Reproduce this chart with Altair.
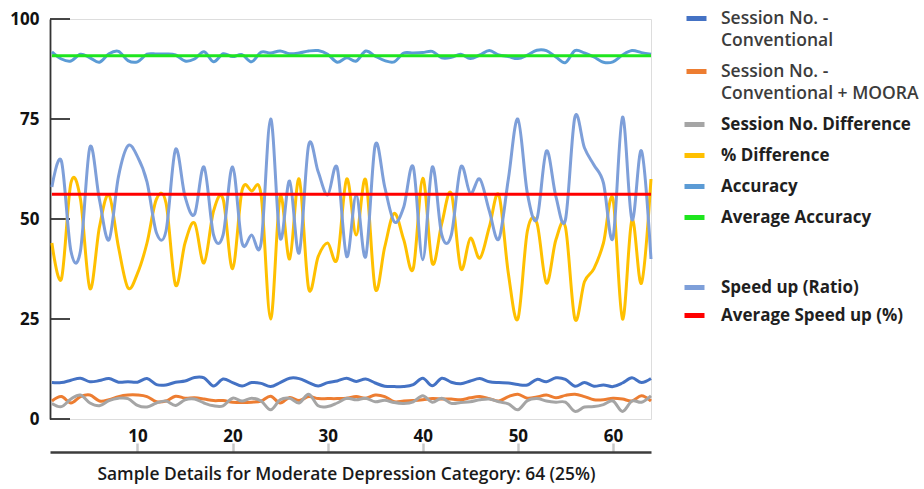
import altair as alt
import pandas as pd

x_idx = list(range(1, 65))

session_conv = [9.1, 9.1, 9.7, 10.2, 9.3, 9.6, 10.1, 9.2, 9.3, 9.2, 10.1, 8.6, 8.5, 9.2, 9.5, 10.4,
                10.3, 8.25, 10.0, 9.1, 8.25, 9.1, 8.9, 8.1, 9.1, 10.2, 10.1, 9.1, 8.25, 9.1, 9.5, 10.2,
                9.4, 10.0, 9.0, 8.2, 8.1, 8.1, 8.6, 10.2, 8.3, 10.2, 9.2, 8.8, 9.5, 10.1, 9.3, 9.1,
                9.0, 8.6, 8.5, 9.9, 9.3, 10.3, 9.9, 8.2, 9.1, 8.2, 8.5, 8.1, 9.0, 10.3, 9.1, 10.1]

session_moora = [4.5, 5.6, 4.0, 5.6, 6.0, 4.5, 4.8, 5.6, 6.0, 6.0, 5.6, 4.3, 4.5, 5.7, 5.2, 5.3,
                 5.0, 4.6, 4.6, 4.2, 4.1, 4.2, 4.5, 5.7, 4.0, 5.4, 4.6, 5.6, 5.1, 5.1, 5.1, 5.2,
                 5.6, 5.2, 6.0, 5.6, 4.3, 4.5, 4.6, 4.8, 5.1, 5.0, 5.0, 4.8, 5.3, 5.6, 5.1, 4.5,
                 5.6, 6.2, 5.2, 5.5, 6.0, 5.3, 5.9, 6.2, 5.6, 4.8, 4.8, 5.2, 5.0, 4.5, 5.8, 4.5]

session_diff = [3.9, 3.1, 5.0, 6.0, 4.0, 3.3, 4.6, 5.2, 5.1, 3.4, 3.0, 4.0, 4.5, 3.4, 4.8, 5.0,
                4.0, 3.3, 3.3, 5.2, 4.5, 5.2, 4.5, 2.3, 4.8, 5.2, 4.0, 6.2, 3.3, 3.1, 4.0, 5.2,
                4.8, 5.2, 4.3, 4.7, 4.1, 3.9, 4.3, 5.8, 4.2, 5.2, 3.9, 4.1, 4.3, 4.8, 5.0, 4.3,
                3.8, 2.3, 4.6, 5.1, 4.5, 4.2, 4.2, 1.9, 3.0, 3.1, 3.6, 4.5, 1.9, 4.5, 4.2, 5.8]

pct_diff = [44, 35, 59, 55, 32.6, 48, 56, 43, 32.8, 36.4, 44, 55, 54, 33.5, 44, 49,
            39, 52, 55, 37.6, 57.2, 57, 56, 25, 55.6, 40, 60, 32.6, 40.6, 44, 40, 60,
            46, 59.8, 32.6, 43, 51.4, 44.8, 37.6, 60.2, 38.9, 48.9, 56.4, 37.6, 45.2, 40.2, 48, 56,
            36.4, 25, 47, 49, 34, 44.8, 48, 25, 34.3, 37.6, 44, 55, 25, 49.8, 34, 60]

accuracy = [91.8, 90.0, 89.5, 91.2, 90.3, 89.2, 91.3, 91.9, 89.6, 89.3, 91.2, 91.25, 91.25, 91.0, 89.5, 90.0,
            91.8, 89.3, 91.3, 90.6, 91.1, 89.3, 91.7, 91.5, 92.0, 91.3, 91.5, 92.0, 92.1, 91.2, 89.2, 90.3,
            89.5, 92.0, 90.7, 89.6, 89.3, 91.5, 91.5, 91.6, 91.9, 90.3, 90.4, 91.2, 90.1, 91.0, 92.1, 91.0,
            90.6, 90.1, 91.0, 92.2, 92.1, 90.5, 89.1, 92.1, 91.5, 90.5, 89.2, 89.3, 91.0, 92.1, 91.6, 91.2]

speed_up = [58, 64.5, 42, 42, 68, 54.8, 44.8, 60.6, 68.3, 65.6, 59.3, 46.5, 47, 67.4, 55.6, 51.2,
            63, 46, 46, 63, 44, 46, 44, 75, 45.2, 59.5, 41.5, 68.5, 61.8, 56, 62.8, 40.6,
            56, 40.6, 68.5, 58, 49.3, 53, 63, 39.8, 63, 46, 46, 63, 56.4, 60, 52, 45,
            60, 75, 56.4, 50, 67, 55.6, 49.8, 75.5, 67.8, 63.5, 59, 45.2, 75.5, 49.8, 67, 40]

AVG_ACCURACY = 90.8
AVG_SPEEDUP = 56.2

y_ticks = [0, 25, 50, 75, 100]
x_ticks = [10, 20, 30, 40, 50, 60]

names_a = ["Session No. - Conventional", "Session No. - Conventional + MOORA"]
colors_a = ["#4472C4", "#ED7D31"]
names_b = ["Session No. Difference", "% Difference", "Accuracy", "Average Accuracy"]
colors_b = ["#A5A5A5", "#FFC000", "#5B9BD5", "#1EE61E"]
names_c = ["Speed up (Ratio)", "Average Speed up (%)"]
colors_c = ["#7E9FD9", "#FF0000"]

X_TITLE = "Sample Details for Moderate Depression Category: 64 (25%)"
FONT = "Open Sans"


def long_df(pairs):
    rows = []
    for name, vals in pairs:
        for xi, v in zip(x_idx, vals):
            rows.append({"x": xi, "v": v, "s": name})
    return pd.DataFrame(rows)


df_a = long_df([(names_a[0], session_conv), (names_a[1], session_moora)])
df_b = long_df([(names_b[0], session_diff), (names_b[1], pct_diff), (names_b[2], accuracy),
                (names_b[3], [AVG_ACCURACY] * len(x_idx))])
df_c = long_df([(names_c[0], speed_up), (names_c[1], [AVG_SPEEDUP] * len(x_idx))])

x_scale = alt.Scale(domain=[0.8, 64], nice=False, zero=False)
y_scale = alt.Scale(domain=[0, 100], nice=False, zero=True)

x_axis = alt.Axis(
    orient="top", offset=-433, values=x_ticks, grid=False,
    domainColor="#3c3c3c", domainWidth=2.5,
    tickColor="#c8c8c8", tickWidth=2.5, tickSize=9,
    labelFont=FONT, labelFontSize=17, labelFontWeight="bold", labelColor="#111111",
    labelBaseline="alphabetic", labelPadding=2, labelFlush=False,
    title=X_TITLE, titleFont=FONT, titleFontSize=17.4, titleFontWeight=600,
    titleColor="#1a1a1a", titleX=296, titleY=27, titleAlign="center",
    titleBaseline="alphabetic", titleAnchor="middle",
)
# y axis: domain at the left edge, labels to its left
y_axis = alt.Axis(
    orient="left", values=y_ticks, grid=False, ticks=False, tickSize=0,
    domainColor="#333333", domainWidth=1.8,
    labelFont=FONT, labelFontSize=17, labelFontWeight="bold", labelColor="#111111",
    labelAlign="right", labelPadding=11, labelFlush=False, title=None,
)


def legend(x, y, row_pad, size, weight, color, label_expr=None, offset=14):
    kw = dict(
        orient="none", legendX=x, legendY=y, title=None, padding=0,
        symbolType="stroke", symbolStrokeWidth=5, symbolSize=400,
        labelFont=FONT, labelFontSize=size, labelFontWeight=weight, labelColor=color,
        labelOffset=offset, labelLimit=320, rowPadding=row_pad, direction="vertical",
    )
    if label_expr:
        kw["labelExpr"] = label_expr
    return alt.Legend(**kw)


expr_a = ("datum.label == 'Session No. - Conventional' ? ['Session No. -', 'Conventional'] : "
          "['Session No. -', 'Conventional + MOORA']")

# inward-pointing y tick marks (axis decoration), positioned by the y scale
y_tick_marks = alt.Chart(pd.DataFrame({"v": y_ticks})).mark_rule(
    color="#333333", strokeWidth=1.8
).encode(
    y=alt.Y("v:Q", scale=y_scale, axis=y_axis),
    x=alt.value(0), x2=alt.value(20),
)

layer_a = alt.Chart(df_a).mark_line(interpolate="cardinal", strokeWidth=3).encode(
    x=alt.X("x:Q", scale=x_scale, axis=x_axis),
    y=alt.Y("v:Q", scale=y_scale, axis=y_axis),
    color=alt.Color("s:N", scale=alt.Scale(domain=names_a, range=colors_a),
                    sort=names_a,
                    legend=legend(634, -13, 10, 17.5, 600, "#3c3c3c", expr_a, 12)),
)

layer_b = alt.Chart(df_b).mark_line(interpolate="cardinal", strokeWidth=3).encode(
    x=alt.X("x:Q", scale=x_scale, axis=x_axis),
    y=alt.Y("v:Q", scale=y_scale, axis=y_axis),
    color=alt.Color("s:N", scale=alt.Scale(domain=names_b, range=colors_b),
                    sort=names_b,
                    legend=legend(632, 93, 8, 17, "bold", "#1f1f1f")),
)

layer_c = alt.Chart(df_c).mark_line(interpolate="cardinal", strokeWidth=3).encode(
    x=alt.X("x:Q", scale=x_scale, axis=x_axis),
    y=alt.Y("v:Q", scale=y_scale, axis=y_axis),
    color=alt.Color("s:N", scale=alt.Scale(domain=names_c, range=colors_c),
                    sort=names_c,
                    legend=legend(632, 256, 5, 17, "bold", "#1f1f1f")),
)

chart = alt.layer(y_tick_marks, layer_a, layer_b, layer_c).resolve_scale(
    color="independent"
).properties(
    width=601, height=400,
    autosize=alt.AutoSizeParams(type="none"),
    padding={"left": 50, "top": 19, "right": 273, "bottom": 70},
    background="white",
).configure_view(stroke=None).configure(style={"guide-label": {"lineHeight": 22}})

chart.save("out.html", embed_options={"renderer": "svg", "actions": False})
